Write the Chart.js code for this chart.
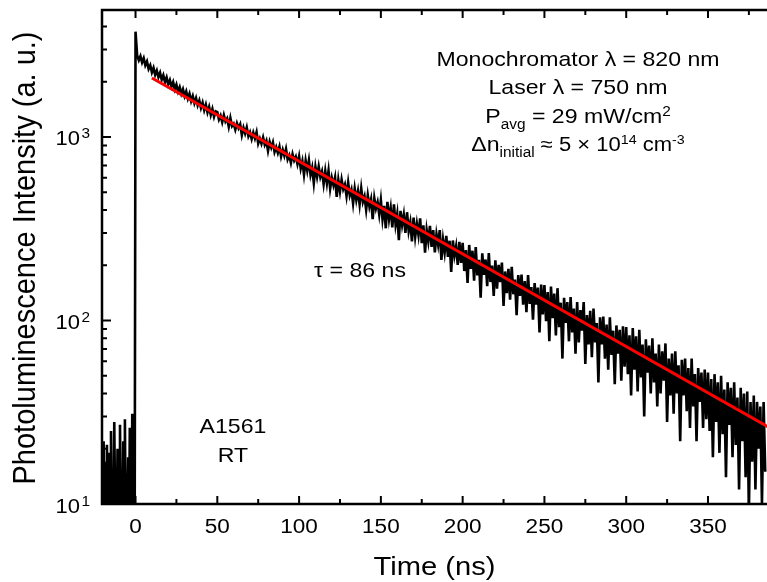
<!DOCTYPE html>
<html>
<head>
<meta charset="utf-8">
<script src="https://cdn.jsdelivr.net/npm/chart.js@4"></script>
<style>
  html, body { margin: 0; padding: 0; background: #fff; overflow: hidden; width: 767px; height: 582px; }
  canvas { display: block; }
</style>
</head>
<body>
<canvas id="plChart" width="772" height="582" style="width:772px;height:582px"></canvas>
<script>
// PL transient: background before the laser pulse in 0.5 ns bins, decay in 1 ns bins
const preStart = -20, preStep = 0.5;
const decayStart = 0, decayStep = 1;

const preTrigger = [9, 22, 6, 17, 8, 21, 11, 7, 19, 9, 25, 8, 14, 6, 28, 10, 16, 7, 20, 12,
  8, 27, 9, 15, 6, 22, 10, 29, 7, 13, 9, 18, 6, 26, 11, 8, 31, 10, 16, 8];
const decay0 = [3750, 2780, 2620, 2760, 2550, 2690, 2460, 2580, 2350, 2460, 2250, 2380, 2180, 2300, 2120, 2240, 2050, 2170, 1990, 2110,
  1930, 2040, 1880, 1990, 1820, 1930, 1770, 1870, 1720, 1820, 1670, 1770, 1620, 1720, 1570, 1670, 1530, 1630, 1490, 1580,
  1440, 1540, 1400, 1500, 1360, 1460, 1320, 1420, 1290, 1380];
const decay1 = [1366, 1246, 1309, 1205, 1316, 1214, 1261, 1137, 1268, 1147, 1181, 1097, 1188, 1118, 1171, 1025, 1123, 1045, 1128, 1010,
  1062, 977, 1057, 984, 1063, 922, 980, 920, 994, 908, 954, 842, 940, 876, 936, 829, 880, 819, 885, 783,
  850, 790, 861, 755, 794, 723, 806, 744, 780, 711];
const decay2 = [785, 674, 739, 624, 742, 657, 746, 622, 681, 562, 687, 607, 689, 606, 649, 554, 652, 560, 655, 523,
  599, 546, 602, 472, 583, 505, 585, 520, 551, 477, 565, 481, 516, 435, 524, 454, 507, 429, 524, 443,
  475, 401, 482, 418, 458, 357, 464, 408, 441, 378];
const decay3 = [452, 357, 421, 318, 443, 357, 410, 322, 430, 333, 381, 274, 396, 332, 377, 300, 389, 307, 343, 270,
  364, 286, 337, 292, 360, 264, 330, 234, 311, 270, 328, 252, 311, 235, 295, 259, 311, 214, 275, 235,
  289, 222, 272, 184, 273, 226, 254, 201, 268, 206];
const decay4 = [265, 186, 242, 160, 258, 191, 240, 165, 251, 176, 214, 133, 232, 177, 215, 154, 233, 162, 199, 136,
  213, 149, 201, 162, 207, 120, 185, 141, 191, 130, 196, 139, 167, 107, 177, 136, 178, 122, 164, 111,
  177, 123, 152, 101, 160, 122, 151, 86, 157, 108];
const decay5 = [156, 99, 143, 77, 153, 103, 140, 83, 150, 92, 125, 62, 133, 97, 126, 77, 134, 86, 116, 66,
  126, 76, 114, 88, 126, 58, 107, 74, 113, 63, 116, 76, 97, 46, 104, 74, 105, 62, 95, 54,
  104, 65, 88, 45, 94, 66, 89, 47, 93, 56];
const decay6 = [92, 51, 83, 39, 91, 54, 82, 41, 89, 49, 74, 30, 79, 52, 73, 40, 80, 46, 66, 34,
  74, 40, 68, 47, 75, 28, 62, 39, 66, 31, 68, 40, 57, 22, 61, 39, 62, 32, 55, 26,
  62, 34, 51, 22, 55, 36, 52, 26, 54, 29];
const decay7 = [52, 25, 48, 18, 51, 28, 46, 19, 50, 24, 42, 14, 46, 27, 43, 18, 46, 21, 38, 12,
  43, 22, 40, 14, 41, 9, 36, 17, 39, 12, 36, 20, 34, 10, 36, 15];

// mono-exponential fit, tau = 86 ns (end points)
const fitTimes = [10, 387.3];
const fitValues = [2097, 26.1];

const xMajorTicks = [0, 50, 100, 150, 200, 250, 300, 350];
const xMinorTicks = [25, 75, 125, 175, 225, 275, 325, 375];
const yMajorTicks = [10, 100, 1000];
const yMajorLabels = ['1', '2', '3'];   // exponents of 10
const yMinorTicks = [20, 30, 40, 50, 60, 70, 80, 90, 200, 300, 400, 500, 600, 700, 800, 900, 2000, 3000, 4000];

const FONT = '"Liberation Sans", Arial, sans-serif';
const SX = 1.1; // text in the original is a bit wide

function txtW(ctx, t, size) {
  ctx.font = size + 'px ' + FONT;
  return ctx.measureText(t).width * SX;
}
function putText(ctx, t, x, y, size, align) {
  ctx.save();
  ctx.font = size + 'px ' + FONT;
  ctx.textAlign = align || 'left';
  ctx.textBaseline = 'alphabetic';
  ctx.fillStyle = '#000';
  ctx.translate(x, y);
  ctx.scale(SX, 1);
  ctx.fillText(t, 0, 0);
  ctx.restore();
}
// pieces: [text, size, dy]
function richLine(ctx, pieces, cx, y) {
  const w = pieces.reduce((s, p) => s + txtW(ctx, p[0], p[1]), 0);
  let x = cx - w / 2;
  pieces.forEach(p => {
    putText(ctx, p[0], x, y + p[2], p[1], 'left');
    x += txtW(ctx, p[0], p[1]);
  });
}

const decayCounts = [].concat(decay0, decay1, decay2, decay3, decay4, decay5, decay6, decay7);
const plPoints = preTrigger.map((v, i) => ({ x: preStart + i * preStep, y: v }))
  .concat(decayCounts.map((v, i) => ({ x: decayStart + i * decayStep, y: v })));
const fitPoints = fitTimes.map((t, i) => ({ x: t, y: fitValues[i] }));

const framePlugin = {
  id: 'frame',
  afterDraw(chart) {
    const ctx = chart.ctx;
    const a = chart.chartArea;
    const xs = chart.scales.x, ys = chart.scales.y;
    ctx.save();
    ctx.strokeStyle = '#000';
    ctx.lineWidth = 2.5;
    ctx.strokeRect(a.left, a.top, a.right - a.left, a.bottom - a.top);

    ctx.lineWidth = 2;
    ctx.beginPath();
    xMajorTicks.forEach(v => {
      const px = xs.getPixelForValue(v);
      ctx.moveTo(px, a.bottom); ctx.lineTo(px, a.bottom - 8);
      ctx.moveTo(px, a.top); ctx.lineTo(px, a.top + 8);
    });
    xMinorTicks.forEach(v => {
      const px = xs.getPixelForValue(v);
      ctx.moveTo(px, a.bottom); ctx.lineTo(px, a.bottom - 5);
      ctx.moveTo(px, a.top); ctx.lineTo(px, a.top + 5);
    });
    yMajorTicks.forEach(v => {
      const py = ys.getPixelForValue(v);
      ctx.moveTo(a.left, py); ctx.lineTo(a.left + 9, py);
    });
    yMinorTicks.forEach(v => {
      const py = ys.getPixelForValue(v);
      ctx.moveTo(a.left, py); ctx.lineTo(a.left + 5, py);
    });
    ctx.stroke();

    // tick labels
    xMajorTicks.forEach(v => {
      putText(ctx, String(v), xs.getPixelForValue(v), a.bottom + 29, 20.5, 'center');
    });
    yMajorTicks.forEach((v, i) => {
      const py = ys.getPixelForValue(v);
      putText(ctx, '10', 80, py + 8.5, 20, 'right');
      putText(ctx, yMajorLabels[i], 81.5, py + 1.5, 14, 'left');
    });

    // axis titles
    putText(ctx, 'Time (ns)', (a.left + 767) / 2, 575, 26.5, 'center');
    ctx.save();
    ctx.translate(35, 258);
    ctx.rotate(-Math.PI / 2);
    ctx.scale(1, SX);
    ctx.font = '29px ' + FONT;
    ctx.textAlign = 'center';
    ctx.fillStyle = '#000';
    ctx.fillText('Photoluminescence Intensity (a. u.)', 0, 0);
    ctx.restore();

    // annotations
    const cx = 578;
    richLine(ctx, [['Monochromator \u03bb = 820 nm', 21, 0]], cx, 66);
    richLine(ctx, [['Laser \u03bb = 750 nm', 21, 0]], cx, 94);
    richLine(ctx, [['P', 21, 0], ['avg', 14, 6], [' = 29 mW/cm', 21, 0], ['2', 14, -7]], cx, 123);
    richLine(ctx, [['\u0394n', 21, 0], ['initial', 14, 6], [' \u2248 5 \u00d7 10', 20, 0], ['14', 13, -7],
      [' cm', 20, 0], ['-3', 13, -7]], cx, 151);
    richLine(ctx, [['\u03c4 = 86 ns', 21, 0]], 360, 277);
    richLine(ctx, [['A1561', 21, 0]], 233, 433);
    richLine(ctx, [['RT', 21, 0]], 233, 462);
    ctx.restore();
  }
};

new Chart(document.getElementById('plChart'), {
  type: 'line',
  data: {
    datasets: [
      {
        label: 'Fit',
        data: fitPoints,
        borderColor: '#ff0000',
        borderWidth: 3,
        pointRadius: 0,
        fill: false,
        tension: 0
      },
      {
        label: 'A1561 RT',
        data: plPoints,
        borderColor: '#000000',
        borderWidth: 2.6,
        pointRadius: 0,
        fill: false,
        tension: 0
      }
    ]
  },
  options: {
    responsive: false,
    animation: false,
    layout: { padding: { left: 102, top: 10, right: 3, bottom: 78 } },
    scales: {
      x: { type: 'linear', min: -20.5, max: 387.3, display: false },
      y: { type: 'logarithmic', min: 10, max: 4920, display: false }
    },
    plugins: {
      legend: { display: false },
      tooltip: { enabled: false }
    }
  },
  plugins: [framePlugin]
});
</script>
</body>
</html>
